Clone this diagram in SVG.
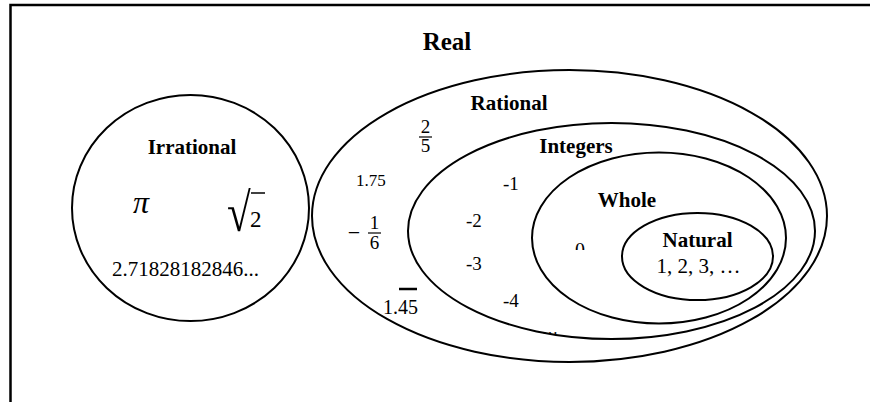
<svg xmlns="http://www.w3.org/2000/svg" width="870" height="402" viewBox="0 0 870 402">
<style>
  .set { fill: none; stroke: #000; stroke-width: 2; }
  .lbl { font-family: "Liberation Serif", "Times New Roman", serif; font-weight: bold; font-size: 21px; fill: #000; text-anchor: middle; }
  .num { font-family: "Liberation Serif", "Times New Roman", serif; font-size: 19px; fill: #000; }
  .mid { text-anchor: middle; }
  .bar { stroke: #000; stroke-width: 1.2; }
</style>
<defs>
  <clipPath id="zeroClip"><rect x="560" y="230" width="40" height="20"/></clipPath>
</defs>
<rect x="0" y="0" width="870" height="402" fill="#fff"/>
<g id="real">
  <path d="M10.5,402 V5 H870" fill="none" stroke="#000" stroke-width="2.5"/>
  <text class="lbl" x="447" y="50" style="font-size:25px">Real</text>
</g>
<g id="irrational">
  <ellipse class="set" cx="190.5" cy="208" rx="118.5" ry="113"/>
  <text class="lbl" x="192" y="154">Irrational</text>
  <text class="num mid" x="141" y="213" style="font-size:32px;font-style:italic">π</text>
  <text class="num" transform="translate(227,231) scale(0.8,1)" style="font-size:54px">√</text>
  <line x1="251" y1="193" x2="265" y2="193" stroke="#000" stroke-width="1.5"/>
  <text class="num" x="250" y="227" style="font-size:23px">2</text>
  <text class="num mid" x="185.5" y="276" style="font-size:21px">2.71828182846...</text>
</g>
<g id="rational">
  <ellipse class="set" cx="569.5" cy="216" rx="257.5" ry="146"/>
  <text class="lbl" x="509" y="110">Rational</text>
  <text class="num mid" x="425.5" y="133">2</text>
  <line class="bar" x1="419" y1="137" x2="432" y2="137"/>
  <text class="num mid" x="425.5" y="152">5</text>
  <text class="num" x="356" y="186" style="font-size:17px">1.75</text>
  <text class="num mid" x="354" y="240" style="font-size:22px">−</text>
  <text class="num mid" x="374.5" y="229">1</text>
  <line class="bar" x1="368" y1="233" x2="381" y2="233"/>
  <text class="num mid" x="374.5" y="249">6</text>
  <text class="num" x="383" y="314" style="font-size:20px">1.45</text>
  <line x1="399" y1="289" x2="417" y2="289" stroke="#000" stroke-width="2.5"/>
</g>
<g id="integers">
  <ellipse class="set" cx="611.5" cy="231" rx="203.5" ry="108"/>
  <text class="lbl" x="576" y="153">Integers</text>
  <text class="num" x="503" y="190">-1</text>
  <text class="num" x="466" y="227">-2</text>
  <text class="num" x="466" y="270">-3</text>
  <text class="num" x="503" y="307">-4</text>
  <text class="num" x="542" y="334" style="font-size:16px">…</text>
</g>
<g id="whole">
  <ellipse class="set" cx="659" cy="238" rx="127" ry="85.5"/>
  <text class="lbl" x="627" y="207">Whole</text>
  <text class="num mid" x="580" y="257" clip-path="url(#zeroClip)" style="font-size:20px">0</text>
</g>
<g id="natural">
  <ellipse class="set" cx="697.5" cy="256.5" rx="75.5" ry="43.5"/>
  <text class="lbl" x="697.5" y="247">Natural</text>
  <text class="num mid" x="698.5" y="273" style="font-size:21px">1, 2, 3, …</text>
</g>
<g id="connectors"/>
</svg>
